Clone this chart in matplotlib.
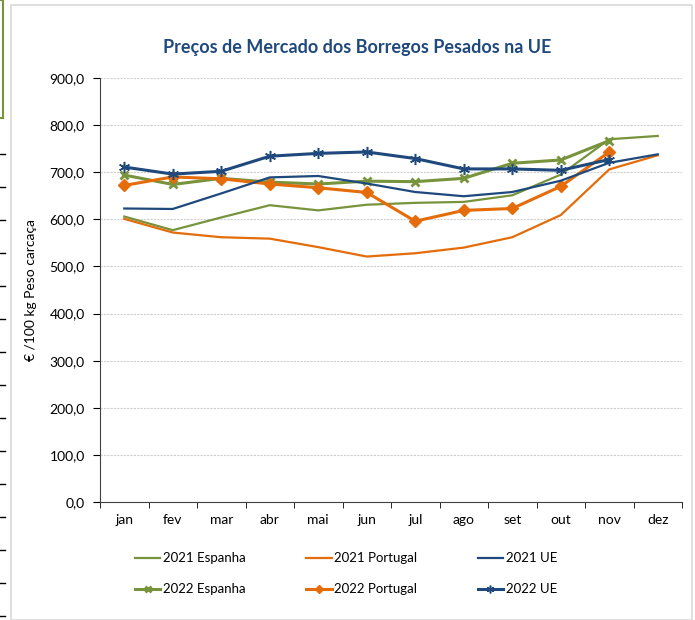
"""Precos de mercado dos borregos pesados na UE"""

import numpy as np
import matplotlib.pyplot as plt
from matplotlib.lines import Line2D
from matplotlib.patches import Rectangle
from matplotlib.ticker import FuncFormatter, FixedLocator

plt.rcParams["font.family"] = ["Lato", "DejaVu Sans"]

MONTHS = ["jan", "fev", "mar", "abr", "mai", "jun",
          "jul", "ago", "set", "out", "nov", "dez"]

ESP_2021 = [606, 577, 604, 630, 619, 631, 635, 637, 651, 695, 770, 777]
POR_2021 = [601, 572, 562, 559, 541, 521, 528, 540, 562, 609, 706, 736]
UE_2021 = [623, 622, 655, 689, 692, 676, 658, 649, 658, 682, 720, 738]

ESP_2022 = [694, 674, 687, 679, 675, 681, 680, 687, 719, 726, 767]
POR_2022 = [672, 690, 686, 675, 667, 657, 596, 619, 623, 670, 743]
UE_2022 = [711, 696, 702, 734, 740, 743, 729, 707, 707, 704, 727]

GREEN = "#77933C"
ORANGE = "#E46C0A"
BLUE = "#1F497D"
TITLE_COLOR = "#1F497D"

DPI = 100
W, H = 695, 620

# =============================================================================
fig = plt.figure(figsize=(W / DPI, H / DPI), dpi=DPI)

# chart frame + leftovers of the sheet behind it
fig.patches.append(Rectangle((11 / W, 0), (692 - 11) / W, 1 - 5 / H,
                             transform=fig.transFigure, fill=False,
                             edgecolor="#D9D9D9", linewidth=1.2))
fig.patches.append(Rectangle((-2 / W, 1 - 118 / H), 5 / W, 118 / H,
                             transform=fig.transFigure, fill=False,
                             edgecolor=GREEN, linewidth=1.5))
for yp in range(154, 620, 33):
    fig.lines.append(Line2D([0, 5 / W], [1 - yp / H, 1 - yp / H],
                            transform=fig.transFigure, color="black",
                            linewidth=1))

ax = fig.add_axes([100 / W, 1 - 502 / H, (682 - 100) / W, (502 - 78) / H])

x = np.arange(len(MONTHS))
x22 = np.arange(len(ESP_2022))

ax.plot(x, ESP_2021, "-", color=GREEN, linewidth=1.6, label="2021 Espanha")
ax.plot(x22, ESP_2022, "-", color=GREEN, linewidth=2.2, marker="x",
        markersize=6, markeredgewidth=2, label="2022 Espanha")
ax.plot(x, POR_2021, "-", color=ORANGE, linewidth=1.6, label="2021 Portugal")
ax.plot(x22, POR_2022, "-", color=ORANGE, linewidth=2.2, marker="D",
        markersize=6, label="2022 Portugal")
ax.plot(x, UE_2021, "-", color=BLUE, linewidth=1.6, label="2021 UE")
ax.plot(x22, UE_2022, "-", color=BLUE, linewidth=2.2, marker=(6, 2, 0),
        markersize=8, markeredgewidth=1.1, label="2022 UE")

ax.set_xlim(-0.5, len(MONTHS) - 0.5)
ax.set_ylim(0, 900)
ax.set_yticks(np.arange(0, 901, 100))
ax.yaxis.set_major_formatter(FuncFormatter(lambda v, p: "{:.1f}".format(v).replace(".", ",")))
ax.set_xticks(x)
ax.set_xticklabels(MONTHS)
ax.xaxis.set_minor_locator(FixedLocator(np.arange(-0.5, len(MONTHS), 1)))
ax.tick_params(axis="x", which="major", length=0, pad=9, labelsize=10)
ax.tick_params(axis="x", which="minor", length=4, direction="out")
ax.tick_params(axis="y", length=5, direction="out", pad=6, labelsize=10)

ax.grid(axis="y", color="#D0D0D0", linestyle=(0, (2, 1)), linewidth=0.8)
ax.set_axisbelow(True)
for s in ["top", "right"]:
    ax.spines[s].set_visible(False)
ax.spines["left"].set_color("#404040")
ax.spines["bottom"].set_color("#404040")

ax.set_ylabel("€ /100 kg Peso carcaça", fontsize=10)
ax.yaxis.set_label_coords(-63 / (682 - 100), 0.5)

fig.text(357 / W, 1 - 47 / H, "Preços de Mercado dos Borregos Pesados na UE",
         ha="center", va="center", fontsize=13, fontweight="bold",
         color=TITLE_COLOR)

ax.legend(loc="upper left", bbox_to_anchor=(130 / W, 1 - 547 / H),
          bbox_transform=fig.transFigure, ncol=3, frameon=False,
          fontsize=9.5, handlelength=1.9, handletextpad=0.2,
          columnspacing=4.6, labelspacing=1.45, borderaxespad=0,
          markerscale=0.7)

plt.savefig("out.png", dpi=DPI)
